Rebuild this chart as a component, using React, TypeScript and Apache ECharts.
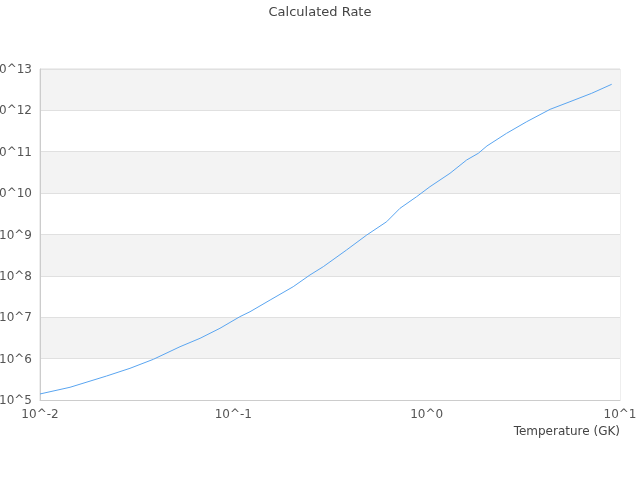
import React, { useEffect, useRef } from "react";
import * as echarts from "echarts";

const temperatures = [
  0.01, 0.0143, 0.0221, 0.0292, 0.0386, 0.053, 0.0673, 0.0853, 0.108, 0.122,
  0.155, 0.204, 0.249, 0.292, 0.385, 0.49, 0.621, 0.728, 0.887, 1.04,
  1.32, 1.61, 1.85, 2.05, 2.59, 3.29, 4.35, 5.51, 7.14, 9.06,
];
const rates = [
  1.4e5, 2.03e5, 3.8e5, 5.83e5, 9.64e5, 1.94e6, 3.1e6, 5.41e6, 1.03e7, 1.36e7,
  2.61e7, 5.47e7, 1.05e8, 1.67e8, 4.22e8, 9.73e8, 2.04e9, 4.3e9, 8.2e9, 1.43e10,
  3.01e10, 6.32e10, 9.18e10, 1.38e11, 2.79e11, 5.32e11, 1.06e12, 1.62e12, 2.59e12, 4.27e12,
];

const fmt = (v: number) => "10^" + Math.round(Math.log10(v));

export default function App() {
  const ref = useRef<HTMLDivElement>(null);
  useEffect(() => {
    if (!ref.current) return;
    const chart = echarts.init(ref.current, undefined, { renderer: "svg" });
    chart.setOption({
      animation: false,
      textStyle: { fontFamily: "DejaVu Sans" },
      title: {
        text: "Calculated Rate",
        left: "center",
        top: 0,
        textStyle: { fontSize: 13, fontWeight: "normal", color: "#444" },
      },
      grid: {
        left: 40,
        right: 20,
        top: 69,
        bottom: 80,
        containLabel: false,
        outerBoundsMode: "none",
        show: true,
        borderColor: "#ddd",
        borderWidth: 1,
        backgroundColor: "transparent",
      },
      xAxis: {
        type: "log",
        logBase: 10,
        min: 0.01,
        max: 10,
        name: "Temperature (GK)",
        nameLocation: "end",
        nameGap: 0,
        nameTextStyle: {
          align: "right",
          verticalAlign: "top",
          padding: [25, 0, 0, 0],
          fontSize: 12,
          color: "#444",
        },
        axisLine: { lineStyle: { color: "#ccc" } },
        axisTick: { show: false },
        axisLabel: { formatter: fmt, color: "#555", fontSize: 12, margin: 8 },
        splitLine: { show: false },
      },
      yAxis: {
        type: "log",
        logBase: 10,
        min: 1e5,
        max: 1e13,
        interval: 1,
        axisLine: { show: true, lineStyle: { color: "#ccc" } },
        axisTick: { show: false },
        axisLabel: { formatter: fmt, color: "#555", fontSize: 12, margin: 8 },
        splitLine: { show: true, lineStyle: { color: "#e0e0e0" } },
        splitArea: { show: true, areaStyle: { color: ["#ffffff", "#f3f3f3"] } },
      },
      series: [
        {
          type: "line",
          data: temperatures.map((t, i) => [t, rates[i]]),
          showSymbol: false,
          symbol: "none",
          lineStyle: { width: 1, color: "#5aa5f0" },
          itemStyle: { color: "#5aa5f0" },
        },
      ],
    });
    return () => chart.dispose();
  }, []);
  return (
    <div
      ref={ref}
      style={{ position: "fixed", left: 0, top: 0, width: 640, height: 480 }}
    />
  );
}
